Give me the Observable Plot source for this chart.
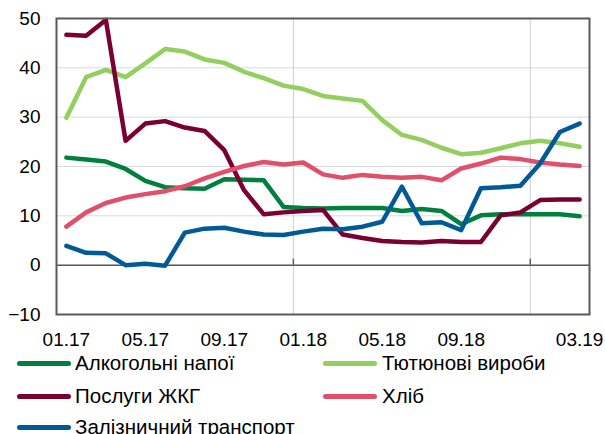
<!DOCTYPE html>
<html>
<head>
<meta charset="utf-8">
<script src="https://cdn.jsdelivr.net/npm/d3@7"></script>
<script src="https://cdn.jsdelivr.net/npm/@observablehq/plot@0.6"></script>
<style>
  html, body { margin: 0; padding: 0; background: #fff; }
  #wrap { position: relative; width: 605px; height: 450px; font-family: "Liberation Sans", Arial, sans-serif; }
  .sw { position: absolute; height: 5px; width: 54px; border-radius: 3px; }
  .lt { position: absolute; font-size: 20.5px; line-height: 20px; color: #000; white-space: nowrap; }
</style>
</head>
<body>
<div id="wrap"></div>
<script>
const months = ["01.17","02.17","03.17","04.17","05.17","06.17","07.17","08.17","09.17","10.17","11.17","12.17",
                "01.18","02.18","03.18","04.18","05.18","06.18","07.18","08.18","09.18","10.18","11.18","12.18",
                "01.19","02.19","03.19"];
const tickLabels = ["01.17","05.17","09.17","01.18","05.18","09.18","03.19"];
const gridMonths = ["01.18","01.19"];
const yTicks = [-10, 0, 10, 20, 30, 40, 50];

const seriesNames = ["Алкогольні напої","Тютюнові вироби","Послуги ЖКГ","Хліб","Залізничний транспорт"];
const seriesColors = ["#00803f","#92cf5e","#7a0032","#e0506b","#005a96"];

const alcohol = [21.8,21.4,21.0,19.5,17.1,15.8,15.6,15.5,17.4,17.3,17.2,11.8,11.6,11.5,11.6,11.6,11.6,11.0,11.4,11.0,8.3,10.1,10.3,10.3,10.3,10.3,9.9];
const tobacco = [29.9,38.1,39.6,38.1,40.9,43.8,43.3,41.7,41.0,39.2,37.9,36.4,35.7,34.3,33.8,33.3,29.4,26.4,25.4,23.8,22.5,22.8,23.7,24.7,25.2,24.7,24.0];
const utilities = [46.7,46.5,49.7,25.2,28.7,29.2,27.9,27.2,23.3,15.2,10.3,10.7,11.0,11.2,6.2,5.5,4.9,4.7,4.6,4.9,4.7,4.7,10.1,10.7,13.2,13.3,13.3];
const bread = [7.8,10.7,12.6,13.7,14.4,15.0,16.0,17.6,18.9,20.1,20.9,20.4,20.8,18.4,17.7,18.3,17.9,17.7,17.9,17.2,19.6,20.6,21.8,21.5,20.8,20.4,20.1];
const railway = [3.9,2.5,2.4,0.0,0.3,-0.1,6.6,7.4,7.6,6.8,6.2,6.1,6.8,7.4,7.3,7.8,8.8,15.9,8.5,8.7,7.1,15.6,15.8,16.1,20.6,27.0,28.7];

const seriesValues = [alcohol, tobacco, utilities, bread, railway];
const data = [];
seriesValues.forEach((vals, s) => vals.forEach((v, i) => data.push({i, month: months[i], v, name: seriesNames[s]})));

const tickIdx = tickLabels.map(m => months.indexOf(m));
const gridIdx = gridMonths.map(m => months.indexOf(m) - 0.5);

const chart = Plot.plot({
  width: 605,
  height: 350,
  marginLeft: 56,
  marginRight: 16,
  marginTop: 18,
  marginBottom: 36,
  style: { fontFamily: "'Liberation Sans', Arial, sans-serif", fontSize: "19px", color: "#000", background: "#fff" },
  x: { domain: [-0.5, months.length - 0.5], label: null },
  y: { domain: [-10, 50], label: null },
  color: { domain: seriesNames, range: seriesColors },
  marks: [
    Plot.gridY(yTicks, { stroke: "#d9d9d9", strokeOpacity: 1, strokeWidth: 1 }),
    Plot.ruleX(gridIdx, { stroke: "#cfcfcf", strokeWidth: 1 }),
    Plot.ruleY([0], { stroke: "#595959", strokeWidth: 1.5 }),
    Plot.ruleX(gridIdx, { y1: 0, y2: 1.2, stroke: "#595959", strokeWidth: 1.5 }),
    Plot.line(data, { x: "i", y: "v", z: "name", stroke: "name", strokeWidth: 4.5, strokeLinejoin: "round", strokeLinecap: "round" }),
    Plot.frame({ stroke: "#595959", strokeWidth: 2 }),
    Plot.axisY({ ticks: yTicks, tickSize: 0, tickPadding: 16, fontSize: 19 }),
    Plot.axisX({ ticks: tickIdx, tickFormat: i => months[i], tickSize: 0, tickPadding: 18, fontSize: 19 })
  ]
});

const wrap = document.getElementById("wrap");
wrap.appendChild(chart);
chart.style.position = "absolute";
chart.style.left = "0px";
chart.style.top = "0px";

const legendRows = [363, 396, 427];
const legendCols = [{sw: 17, tx: 75}, {sw: 323, tx: 382}];
seriesNames.forEach((name, k) => {
  const row = Math.floor(k / 2), col = k % 2;
  const y = legendRows[row];
  const sw = document.createElement("div");
  sw.className = "sw";
  sw.style.left = legendCols[col].sw + "px";
  sw.style.top = (y - 2.5) + "px";
  sw.style.background = seriesColors[k];
  wrap.appendChild(sw);
  const t = document.createElement("div");
  t.className = "lt";
  t.style.left = legendCols[col].tx + "px";
  t.style.top = (y - 10) + "px";
  t.textContent = name;
  wrap.appendChild(t);
});
</script>
</body>
</html>
